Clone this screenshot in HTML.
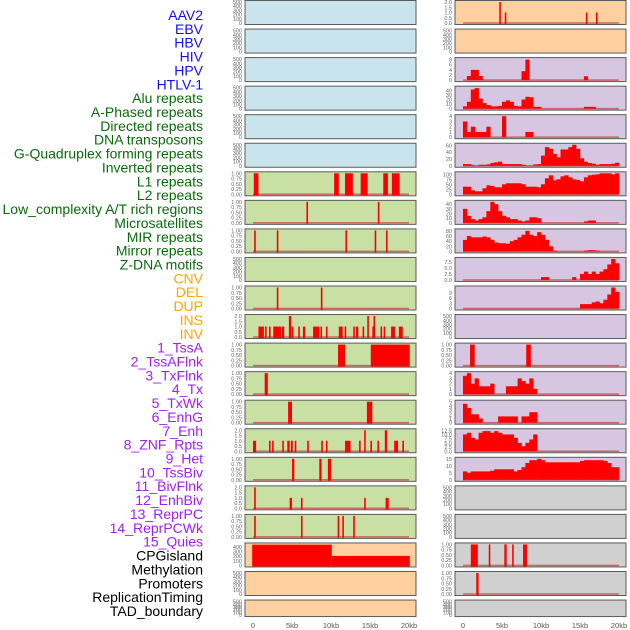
<!DOCTYPE html>
<html><head><meta charset="utf-8"><style>
body{margin:0;background:#fff;}
svg{display:block;font-family:"Liberation Sans",sans-serif;}
</style></head><body>
<svg id="chart" width="630" height="630" viewBox="0 0 630 630" xmlns="http://www.w3.org/2000/svg"></svg>
<script>
const trackLabels=["AAV2","EBV","HBV","HIV","HPV","HTLV-1","Alu repeats","A-Phased repeats","Directed repeats","DNA transposons","G-Quadruplex forming repeats","Inverted repeats","L1 repeats","L2 repeats","Low_complexity A/T rich regions","Microsatellites","MIR repeats","Mirror repeats","Z-DNA motifs","CNV","DEL","DUP","INS","INV","1_TssA","2_TssAFlnk","3_TxFlnk","4_Tx","5_TxWk","6_EnhG","7_Enh","8_ZNF_Rpts","9_Het","10_TssBiv","11_BivFlnk","12_EnhBiv","13_ReprPC","14_ReprPCWk","15_Quies","CPGisland","Methylation","Promoters","ReplicationTiming","TAD_boundary"];
const labelGroups=[6,13,5,15,5];
const groupColors=["#1010ee","#0a6a0a","#ffa500","#a020f0","#000000"];
const xTicks=[0,5000,10000,15000,20000];
const xTickLabels=["0","5kb","10kb","15kb","20kb"];
const leftColors=["b","b","b","b","b","b","g","g","g","g","g","g","g","g","g","g","g","g","g","o","o","o"];
const rightColors=["o","o","p","p","p","p","p","p","p","p","p","p","p","p","p","p","p","y","y","y","y","y"];
const leftMax=[500,500,500,500,500,500,1,1,1,500,1,2,1,1,1,2,1,2,1,450,500,500];
const rightMax=[2,500,8.2,46,4,62,105,45,82,8.8,12,500,1,4,5,12.5,15,500,500,1,1,500];
const leftTicks=[[0,100,200,300,400,500],[0,100,200,300,400,500],[0,100,200,300,400,500],[0,100,200,300,400,500],[0,100,200,300,400,500],[0,100,200,300,400,500],[0,0.25,0.5,0.75,1],[0,0.25,0.5,0.75,1],[0,0.25,0.5,0.75,1],[0,100,200,300,400,500],[0,0.25,0.5,0.75,1],[0,0.5,1,1.5,2],[0,0.25,0.5,0.75,1],[0,0.25,0.5,0.75,1],[0,0.25,0.5,0.75,1],[0,0.5,1,1.5,2],[0,0.25,0.5,0.75,1],[0,0.5,1,1.5,2],[0,0.25,0.5,0.75,1],[0,100,200,300,400],[0,100,200,300,400,500],[0,100,200,300,400,500]];
const rightTicks=[[0,0.5,1,1.5,2],[0,100,200,300,400,500],[0,2,4,6,8],[0,10,20,30,40],[0,1,2,3,4],[0,20,40,60],[0,25,50,75,100],[0,10,20,30,40],[0,20,40,60,80],[0,2.5,5,7.5],[0,3,6,9],[0,100,200,300,400,500],[0,0.25,0.5,0.75,1],[0,1,2,3,4],[0,1,2,3,4,5],[0,2.5,5,7.5,10,12.5],[0,5,10,15],[0,100,200,300,400,500],[0,100,200,300,400,500],[0,0.25,0.5,0.75,1],[0,0.25,0.5,0.75,1],[0,100,200,300,400,500]];
// interval events: [startKb,endKb,height]
const leftEvents={
6:[[0.1,0.7,1],[10.4,11.0,1],[11.8,12.8,1],[13.8,14.7,1],[16.7,17.3,1],[17.8,18.8,1]],
7:[[6.85,7.0,1],[16.0,16.2,1]],
8:[[0.15,0.3,1],[3.05,3.2,1],[11.85,12.0,1],[15.6,15.75,1],[17.05,17.2,1]],
10:[[3.05,3.2,1],[8.7,8.9,1]],
11:[[0.7,1.4,1],[1.55,1.7,1],[2.05,2.2,1],[2.6,3.6,1],[3.7,4.0,1],[4.6,4.9,2],[4.95,5.1,1],[5.8,6.0,1],[6.4,6.7,1],[7.7,8.5,1],[8.65,8.8,1],[9.35,9.5,1],[11.0,11.5,1],[11.75,11.9,1],[12.85,13.0,1],[13.2,13.5,1],[14.05,14.2,1],[14.65,14.8,2],[15.3,15.45,1],[15.45,15.65,2],[16.35,16.5,1],[16.75,16.9,1],[17.7,18.2,1],[18.7,19.2,1]],
12:[[10.9,11.8,1],[15.1,20.1,1]],
13:[[1.5,1.9,1]],
14:[[4.5,5.0,1],[14.6,15.3,1]],
15:[[0.0,0.4,1],[2.05,2.2,1],[2.45,2.6,1],[3.75,3.9,1],[4.4,4.7,1],[4.85,5.1,1],[5.35,5.5,1],[6.95,7.1,1],[8.75,8.9,1],[9.35,9.5,1],[11.8,12.5,1],[13.6,13.8,1],[14.25,14.4,2],[15.05,15.2,1],[15.95,16.1,1],[16.9,17.2,2],[18.1,18.6,1],[19.15,19.3,1]],
16:[[5.0,5.3,1],[8.5,8.8,1],[9.6,10.0,1]],
17:[[0.15,0.3,2],[4.7,5.0,1],[6.15,6.3,1],[14.25,14.4,1],[17.0,17.4,1]],
18:[[0.15,0.3,1],[6.15,6.3,1],[10.85,11.0,1],[11.45,11.6,1],[12.85,13.0,1]],
19:[[-0.1,10.1,445],[10.1,20.1,205]]
};
const rightEvents={
0:[[4.65,4.8,2],[5.35,5.5,1],[15.75,15.9,1],[17.05,17.2,1]],
12:[[0.9,1.5,1],[8.1,8.7,1]],
19:[[1.0,1.9,1],[3.3,3.5,1],[5.3,5.6,1],[6.3,6.5,1],[7.7,8.2,1]],
20:[[1.7,2.0,1]]
};
// histogram rows, 0.5kb bins
const histR2=[0,1.6,4,4,1.6,0,0,0,0,0,0,0,0,0,0,3.5,8,0,0,0,0,0,0,0,0,0,0,0,0,0,0,1.5,0,0,0,0,0,0,0,0];
const histR3=[5,15,42,45,22,12,8,5,5,6,15,18,15,6,5,20,26,25,4,4,0,0,0,0,0,0,0,0,0,0,0,4,4,4,0,0,0,0,0,0];
const histR4=[3,1,2,1,1,1,2,0,0,0,4,0,0,0,0,0,1,1,0,0,0,0,0,0,0,0,0,0,0,0,0,0,0,0,0,0,0,0,0,0];
const histR5=[5,5,2,0,3,3,4,8,10,12,5,5,5,5,5,3,0,0,4,5,30,55,50,35,25,48,48,55,62,50,22,12,8,6,3,5,5,5,6,9];
const histR6=[38,38,20,15,15,30,45,42,35,35,50,55,55,55,55,50,38,38,38,35,50,80,95,70,75,90,95,85,75,72,65,85,95,98,100,105,105,105,100,105];
const histR7=[30,15,8,5,8,12,25,45,40,25,15,12,8,8,5,3,5,12,12,10,0,0,0,0,0,0,0,0,0,0,0,3,5,5,0,0,0,0,0,0];
const histR8=[45,60,55,55,55,58,55,45,35,32,32,30,40,45,55,65,80,65,60,75,65,45,20,3,0,0,0,0,0,0,0,3,5,5,3,0,0,0,0,0];
const histR9=[0,0,0,0,0,0,0,0,0,0,0,0,0,0,0,0,0,0,0,0,1.2,1.2,0,0,0,0,0,0,1.2,0,2.5,3.5,2.5,3.5,2.5,3.5,4.5,6.5,8.8,7];
const histR10=[0,0,0,0,0,0,0,0,0,0,0,0,0,0,0,0,0,0,0,0,0,0,0,0,0,0,0,0,0,0,2.5,2.5,2.5,3.5,4,3,5,8,12,9.5];
const histR13=[3.5,4,2,3,1.5,1.5,1.5,2,0,0,0,1.5,1.5,1.5,3,2.5,2,3,1,0,0,0,0,0,0,0,0,0,0,0,0,0,0,0,0,0,0,0,0,0];
const histR14=[4.5,3.5,2,2,1,0,0,0,0,1.5,1.5,1.5,1.5,1.5,0,1.5,1.5,2.5,2.5,0,0,0,0,0,0,0,0,0,0,0,0,0,0,0,0,0,0,0,0,0];
const histR15=[10,11,8,7,11,12,12,11,12,11,10,10,10,8,5,3,5,7,10,0,0,0,0,0,0,0,0,0,0,0,0,0,0,0,0,0,0,0,0,0];
const histR16=[6,5,6,6,6,6,6,6.5,7.5,7.5,7.5,7.5,7.5,6,7,9,12,14,14,15,14,12.5,12.5,12.5,12.5,12.5,12.5,12.5,12.5,12.5,13.5,14,14,14,14,14,13.5,12,9,9];
const rightHists={2:histR2,3:histR3,4:histR4,5:histR5,6:histR6,7:histR7,8:histR8,9:histR9,10:histR10,13:histR13,14:histR14,15:histR15,16:histR16};
const leftBaseline=[6,7,8,10,11,12,13,14,15,16,17,18];
const rightBaseline=[0,2,3,4,5,6,7,8,9,10,12,13,14,15,16,19,20];

const NS="http://www.w3.org/2000/svg";
const svg=document.getElementById("chart");
const fills={b:"#c9e4ec",g:"#c8e0a4",o:"#fed0a0",p:"#d6c6e1",y:"#d0d0d0"};
function el(tag,attrs,parent){const e=document.createElementNS(NS,tag);for(const k in attrs)e.setAttribute(k,attrs[k]);(parent||svg).appendChild(e);return e;}
function fmt(v,ticks){const step=ticks.length>1?ticks[1]-ticks[0]:1;if(step===0.25)return v.toFixed(2);if(step===0.5||step===2.5)return v.toFixed(1);return String(v);}

// labels
let li=0;
labelGroups.forEach((n,g)=>{for(let k=0;k<n;k++){const t=el("text",{x:203,y:15+li*13.86+5,"text-anchor":"end","font-size":"14",fill:groupColors[g]});


t.textContent=trackLabels[li];li++;}});

function drawColumn(x0,colors,maxes,ticks,events,hists,baseRows,side){
  const W=171,padL=8,plotW=156;
  const xs=kb=>x0+padL+kb/20*plotW;
  for(let i=0;i<22;i++){
    const T=0.5+i*28.55,H=(i===21?16.5:24);
    const g=el("g",{});
    
    
    const r=el("rect",{x:x0,y:T,width:W,height:H,fill:fills[colors[i]],stroke:"#5a5a5a","stroke-width":1},g);
    
    
    const mx=maxes[i];
    const y0=T+H-1.5, span=H-3;
    const ys=v=>y0-v/mx*span;
    ticks[i].forEach(v=>{const t=el("text",{x:x0-3,y:ys(v)+2,"text-anchor":"end","font-size":"5.5",fill:"#666"},g);
      
      
      t.textContent=fmt(v,ticks[i]);});
    if(baseRows.includes(i)){const b=el("rect",{x:xs(0),y:y0-0.8,width:plotW,height:1.6,fill:"#c85050",opacity:0.8},g);
      
      }
    if(hists[i]){hists[i].forEach((v,k)=>{if(v<=0)return;const x1=xs(k*0.5),x2=xs(k*0.5+0.5);
      const b=el("rect",{x:x1,y:ys(Math.min(v,mx)),width:x2-x1+0.3,height:y0-ys(Math.min(v,mx)),fill:"#ff0000"},g);
      
      });}
    if(events[i]){events[i].forEach(e=>{const x1=xs(e[0]);let w=xs(e[1])-x1;if(w<1.6)w=1.6;const v=Math.min(e[2],mx);
      const b=el("rect",{x:x1,y:ys(v),width:w,height:y0-ys(v)+1,fill:"#ff0000"},g);
      
      });}
  }
  xTicks.forEach((v,k)=>{const t=el("text",{x:xs(v/1000),y:628,"text-anchor":"middle","font-size":"7.5",fill:"#555"});
    
    
    t.textContent=xTickLabels[k];});
}
drawColumn(245,leftColors,leftMax,leftTicks,leftEvents,{},leftBaseline,"left");
drawColumn(455,rightColors,rightMax,rightTicks,rightEvents,rightHists,rightBaseline,"right");
</script>
</body></html>
